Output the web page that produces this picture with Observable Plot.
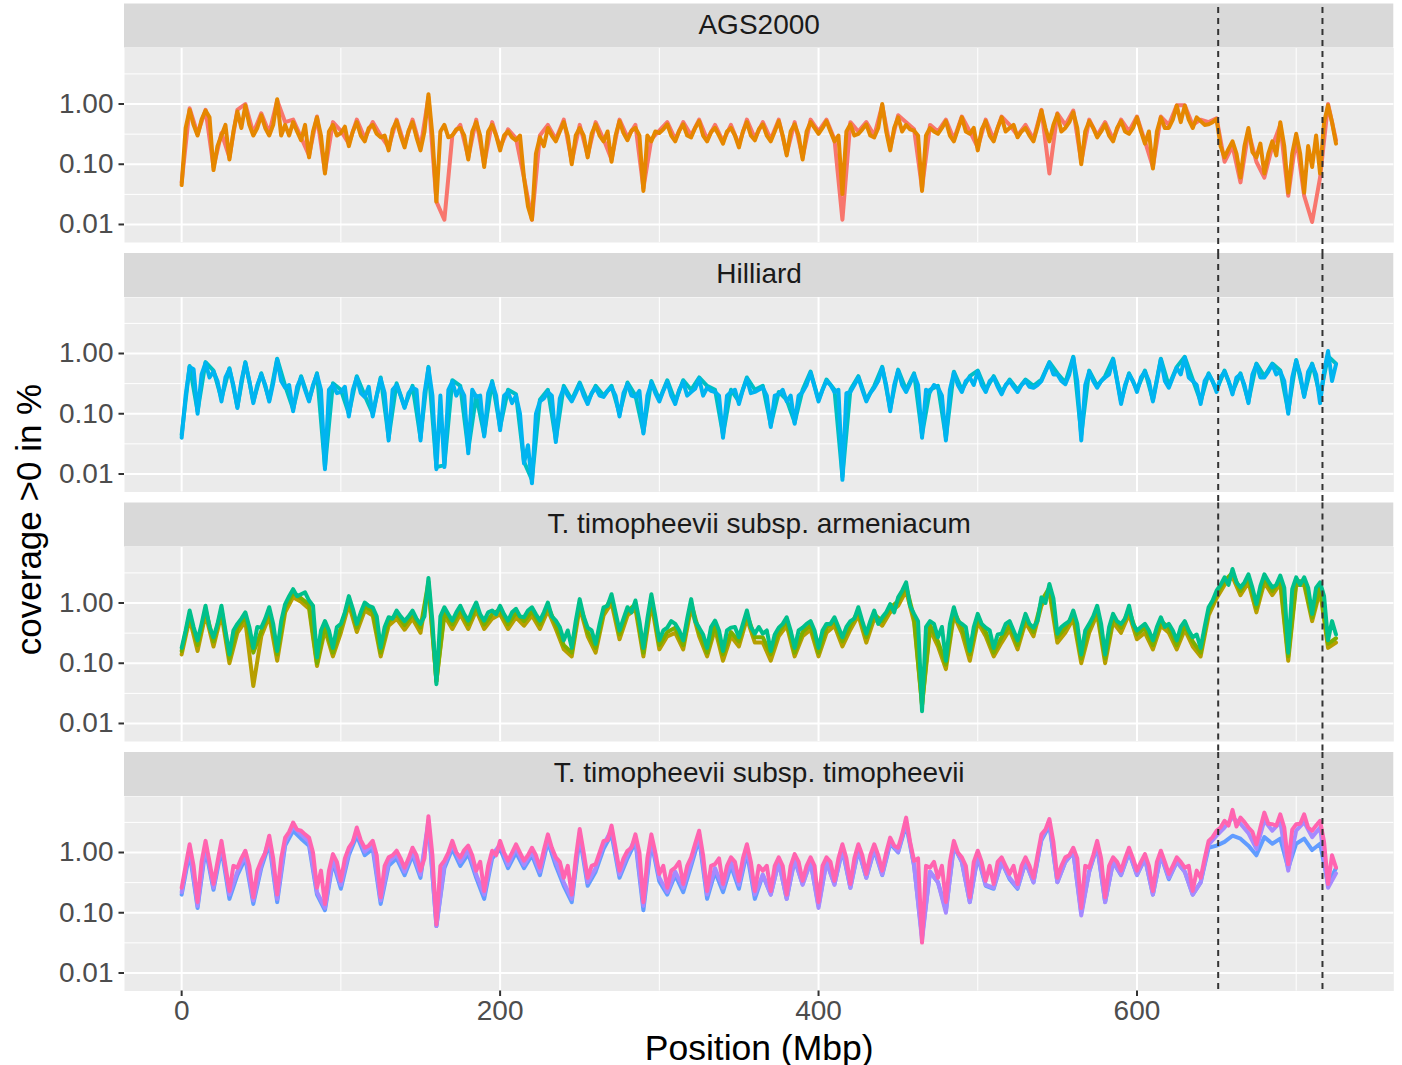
<!DOCTYPE html>
<html>
<head>
<meta charset="utf-8">
<script src="https://cdn.jsdelivr.net/npm/d3@7"></script>
<script src="https://cdn.jsdelivr.net/npm/@observablehq/plot@0.6"></script>
<style>
  html, body { margin: 0; padding: 0; background: #ffffff; }
  #chart svg { display: block; }
</style>
</head>
<body>
<div id="chart"></div>
<script>
// ---------- data ----------
const panels = ["AGS2000", "Hilliard", "T. timopheevii subsp. armeniacum", "T. timopheevii subsp. timopheevii"];
// window start positions (Mbp): 5 Mbp bins for the background samples, 2.5 Mbp bins for the front samples
const positionsCoarse = d3.range(0, 726, 5);
const positionsFine = d3.range(0, 726, 2.5);

const ags2000_a = [
  0.05, 0.85, 0.32, 0.8, 0.09, 0.33, 0.13, 0.8, 1.0, 0.33,
  0.7, 0.33, 1.15, 0.5, 0.55, 0.28, 0.14, 0.62, 0.075, 0.5,
  0.36, 0.22, 0.55, 0.27, 0.5, 0.3, 0.19, 0.55, 0.21, 0.55,
  0.19, 1.3, 0.024, 0.012, 0.3, 0.45, 0.13, 0.55, 0.1, 0.5,
  0.19, 0.38, 0.27, 0.06, 0.012, 0.3, 0.45, 0.26, 0.55, 0.11,
  0.45, 0.14, 0.5, 0.26, 0.12, 0.55, 0.28, 0.45, 0.04, 0.26,
  0.36, 0.5, 0.26, 0.5, 0.3, 0.55, 0.26, 0.45, 0.24, 0.45,
  0.21, 0.55, 0.27, 0.5, 0.26, 0.55, 0.15, 0.5, 0.13, 0.55,
  0.35, 0.55, 0.26, 0.012, 0.5, 0.35, 0.5, 0.3, 0.95, 0.19,
  0.65, 0.5, 0.38, 0.04, 0.45, 0.35, 0.55, 0.26, 0.62, 0.35,
  0.19, 0.55, 0.26, 0.62, 0.45, 0.3, 0.45, 0.26, 0.8, 0.07,
  0.7, 0.45, 0.78, 0.11, 0.55, 0.3, 0.5, 0.26, 0.55, 0.35,
  0.62, 0.24, 0.09, 0.62, 0.45, 0.95, 0.95, 0.45, 0.55, 0.5,
  0.58, 0.11, 0.2, 0.05, 0.35, 0.11, 0.06, 0.2, 0.45, 0.03,
  0.28, 0.03, 0.011, 0.06, 1.0, 0.25
];
const ags2000_b = [
  0.045, 0.4, 0.8, 0.45, 0.3, 0.55, 0.78, 0.6, 0.08, 0.2, 0.3, 0.45, 0.12, 0.35, 0.75, 0.4, 0.95, 0.45, 0.3, 0.4,
  0.65, 0.4, 0.3, 0.45, 1.2, 0.3, 0.45, 0.3, 0.5, 0.35, 0.25, 0.45, 0.13, 0.35, 0.6, 0.3, 0.07, 0.35, 0.45, 0.3,
  0.33, 0.42, 0.2, 0.35, 0.5, 0.3, 0.24, 0.4, 0.45, 0.32, 0.28, 0.3, 0.17, 0.38, 0.52, 0.3, 0.19, 0.36, 0.5, 0.28,
  0.17, 0.35, 1.45, 0.3, 0.024, 0.35, 0.45, 0.28, 0.3, 0.38, 0.4, 0.3, 0.12, 0.35, 0.5, 0.3, 0.09, 0.35, 0.45, 0.3,
  0.17, 0.3, 0.35, 0.28, 0.25, 0.3, 0.06, 0.02, 0.012, 0.15, 0.28, 0.2, 0.4, 0.3, 0.24, 0.35, 0.5, 0.3, 0.1, 0.3,
  0.4, 0.3, 0.13, 0.32, 0.46, 0.3, 0.24, 0.35, 0.11, 0.3, 0.52, 0.33, 0.25, 0.36, 0.4, 0.3, 0.036, 0.3, 0.24, 0.35,
  0.33, 0.38, 0.46, 0.3, 0.24, 0.36, 0.46, 0.3, 0.28, 0.4, 0.52, 0.3, 0.24, 0.34, 0.4, 0.3, 0.22, 0.35, 0.4, 0.3,
  0.19, 0.35, 0.5, 0.3, 0.25, 0.38, 0.46, 0.3, 0.24, 0.35, 0.52, 0.3, 0.14, 0.35, 0.46, 0.3, 0.12, 0.35, 0.5, 0.4,
  0.32, 0.4, 0.52, 0.35, 0.24, 0.3, 0.032, 0.35, 0.46, 0.3, 0.32, 0.38, 0.46, 0.3, 0.28, 0.4, 1.0, 0.35, 0.17, 0.4,
  0.6, 0.35, 0.45, 0.38, 0.36, 0.3, 0.036, 0.3, 0.4, 0.35, 0.32, 0.4, 0.52, 0.3, 0.24, 0.38, 0.6, 0.35, 0.32, 0.4,
  0.17, 0.38, 0.52, 0.3, 0.24, 0.4, 0.6, 0.35, 0.4, 0.45, 0.28, 0.35, 0.4, 0.3, 0.24, 0.42, 0.78, 0.4, 0.24, 0.45,
  0.68, 0.35, 0.4, 0.5, 0.73, 0.4, 0.1, 0.35, 0.52, 0.4, 0.28, 0.35, 0.46, 0.3, 0.24, 0.4, 0.52, 0.35, 0.32, 0.4,
  0.6, 0.35, 0.22, 0.35, 0.085, 0.35, 0.6, 0.4, 0.4, 0.55, 0.94, 0.5, 0.94, 0.55, 0.4, 0.6, 0.52, 0.45, 0.46, 0.5,
  0.56, 0.2, 0.13, 0.18, 0.24, 0.15, 0.06, 0.2, 0.4, 0.16, 0.13, 0.22, 0.07, 0.15, 0.24, 0.14, 0.5, 0.2, 0.034, 0.15,
  0.32, 0.15, 0.034, 0.2, 0.09, 0.3, 0.07, 0.5, 0.95, 0.5, 0.22
];
const hilliard_a = [
  0.045, 0.62, 0.11, 0.72, 0.52, 0.18, 0.57, 0.13, 0.72, 0.16,
  0.47, 0.17, 0.82, 0.29, 0.12, 0.42, 0.17, 0.47, 0.013, 0.32,
  0.25, 0.1, 0.42, 0.2, 0.1, 0.4, 0.04, 0.32, 0.13, 0.29,
  0.04, 0.6, 0.013, 0.014, 0.36, 0.29, 0.025, 0.2, 0.045, 0.35,
  0.06, 0.25, 0.21, 0.016, 0.008, 0.17, 0.25, 0.037, 0.29, 0.17,
  0.33, 0.16, 0.29, 0.2, 0.29, 0.1, 0.33, 0.2, 0.05, 0.35,
  0.17, 0.36, 0.16, 0.36, 0.25, 0.4, 0.29, 0.25, 0.045, 0.25,
  0.16, 0.4, 0.25, 0.29, 0.065, 0.23, 0.17, 0.072, 0.25, 0.5,
  0.17, 0.37, 0.25, 0.009, 0.25, 0.42, 0.17, 0.29, 0.6, 0.12,
  0.54, 0.25, 0.47, 0.045, 0.25, 0.29, 0.04, 0.5, 0.25, 0.42,
  0.52, 0.25, 0.42, 0.23, 0.37, 0.25, 0.37, 0.29, 0.37, 0.72,
  0.47, 0.33, 0.88, 0.045, 0.52, 0.29, 0.42, 0.82, 0.16, 0.47,
  0.25, 0.52, 0.17, 0.82, 0.29, 0.6, 0.88, 0.37, 0.16, 0.47,
  0.25, 0.52, 0.23, 0.47, 0.16, 0.68, 0.42, 0.68, 0.52, 0.11,
  0.78, 0.2, 0.68, 0.2, 0.9, 0.68
];
const hilliard_b = [
  0.04, 0.2, 0.6, 0.55, 0.1, 0.45, 0.7, 0.4, 0.5, 0.35, 0.16, 0.4, 0.55, 0.3, 0.125, 0.35, 0.7, 0.35, 0.15, 0.3,
  0.45, 0.3, 0.16, 0.32, 0.8, 0.35, 0.27, 0.3, 0.11, 0.28, 0.4, 0.25, 0.16, 0.3, 0.45, 0.25, 0.012, 0.25, 0.3, 0.22,
  0.23, 0.28, 0.09, 0.25, 0.4, 0.22, 0.19, 0.28, 0.09, 0.2, 0.38, 0.22, 0.036, 0.25, 0.3, 0.2, 0.125, 0.22, 0.27, 0.25,
  0.036, 0.22, 0.58, 0.2, 0.012, 0.2, 0.013, 0.25, 0.34, 0.2, 0.27, 0.2, 0.022, 0.25, 0.19, 0.2, 0.042, 0.22, 0.33, 0.2,
  0.053, 0.2, 0.23, 0.15, 0.2, 0.1, 0.015, 0.03, 0.007, 0.1, 0.16, 0.18, 0.23, 0.2, 0.034, 0.18, 0.27, 0.2, 0.16, 0.22,
  0.31, 0.2, 0.145, 0.22, 0.27, 0.2, 0.19, 0.24, 0.27, 0.2, 0.09, 0.22, 0.31, 0.2, 0.19, 0.24, 0.047, 0.2, 0.33, 0.22,
  0.16, 0.24, 0.34, 0.2, 0.145, 0.25, 0.34, 0.2, 0.23, 0.26, 0.38, 0.2, 0.27, 0.24, 0.23, 0.2, 0.04, 0.2, 0.23, 0.25,
  0.145, 0.25, 0.38, 0.22, 0.23, 0.25, 0.27, 0.2, 0.06, 0.2, 0.21, 0.25, 0.16, 0.2, 0.068, 0.2, 0.23, 0.3, 0.48, 0.28,
  0.16, 0.25, 0.35, 0.3, 0.23, 0.25, 0.008, 0.22, 0.23, 0.3, 0.4, 0.25, 0.16, 0.22, 0.27, 0.35, 0.58, 0.3, 0.11, 0.3,
  0.52, 0.3, 0.23, 0.32, 0.45, 0.3, 0.04, 0.25, 0.23, 0.3, 0.27, 0.2, 0.036, 0.25, 0.48, 0.3, 0.23, 0.35, 0.4, 0.3,
  0.5, 0.3, 0.23, 0.35, 0.4, 0.28, 0.21, 0.3, 0.35, 0.28, 0.23, 0.3, 0.35, 0.28, 0.27, 0.3, 0.35, 0.5, 0.7, 0.45,
  0.45, 0.35, 0.31, 0.45, 0.86, 0.35, 0.036, 0.3, 0.5, 0.35, 0.27, 0.35, 0.4, 0.45, 0.8, 0.35, 0.145, 0.3, 0.45, 0.35,
  0.23, 0.4, 0.5, 0.35, 0.16, 0.35, 0.8, 0.35, 0.27, 0.4, 0.58, 0.45, 0.86, 0.4, 0.35, 0.3, 0.145, 0.35, 0.45, 0.35,
  0.23, 0.4, 0.5, 0.35, 0.21, 0.4, 0.45, 0.3, 0.15, 0.45, 0.66, 0.4, 0.4, 0.5, 0.66, 0.45, 0.5, 0.35, 0.1, 0.4,
  0.76, 0.45, 0.19, 0.5, 0.66, 0.45, 0.15, 0.5, 1.1, 0.35, 0.66
];
const armeniacum_a = [
  0.14, 0.55, 0.16, 0.65, 0.19, 0.65, 0.1, 0.32, 0.5, 0.042,
  0.28, 0.6, 0.11, 0.7, 1.25, 1.05, 0.8, 0.09, 0.36, 0.13,
  0.32, 0.95, 0.33, 0.75, 0.62, 0.13, 0.42, 0.55, 0.36, 0.55,
  0.32, 1.9, 0.05, 0.62, 0.37, 0.65, 0.37, 0.75, 0.37, 0.55,
  0.65, 0.37, 0.58, 0.42, 0.62, 0.37, 0.75, 0.37, 0.17, 0.13,
  0.85, 0.28, 0.15, 0.62, 1.0, 0.25, 0.62, 0.8, 0.13, 1.0,
  0.17, 0.28, 0.32, 0.17, 0.85, 0.28, 0.13, 0.37, 0.11, 0.28,
  0.19, 0.55, 0.22, 0.22, 0.11, 0.28, 0.42, 0.13, 0.28, 0.36,
  0.13, 0.32, 0.42, 0.19, 0.36, 0.62, 0.22, 0.55, 0.42, 0.7,
  0.9, 1.6, 0.48, 0.02, 0.36, 0.19, 0.08, 0.62, 0.32, 0.11,
  0.48, 0.28, 0.13, 0.22, 0.36, 0.17, 0.48, 0.28, 0.9, 1.5,
  0.22, 0.32, 0.55, 0.1, 0.32, 0.65, 0.1, 0.48, 0.32, 0.65,
  0.25, 0.32, 0.17, 0.42, 0.32, 0.17, 0.36, 0.19, 0.13, 0.62,
  1.2, 2.0, 2.7, 1.35, 2.2, 0.7, 2.2, 1.35, 2.1, 0.11,
  2.0, 2.0, 0.5, 1.6, 0.18, 0.22
];
const armeniacum_b = [
  0.16, 0.65, 0.2, 0.78, 0.23, 0.78, 0.12, 0.39, 0.6, 0.15,
  0.34, 0.73, 0.14, 0.83, 1.48, 1.2, 0.95, 0.1, 0.43, 0.15,
  0.39, 1.12, 0.39, 0.88, 0.73, 0.15, 0.5, 0.65, 0.43, 0.65,
  0.39, 2.25, 0.05, 0.73, 0.44, 0.78, 0.44, 0.88, 0.44, 0.65,
  0.78, 0.44, 0.69, 0.5, 0.73, 0.44, 0.88, 0.44, 0.2, 0.15,
  1.0, 0.33, 0.18, 0.73, 1.2, 0.3, 0.73, 0.95, 0.15, 1.2,
  0.2, 0.33, 0.39, 0.2, 1.0, 0.33, 0.15, 0.44, 0.14, 0.33,
  0.23, 0.65, 0.27, 0.27, 0.14, 0.33, 0.5, 0.15, 0.33, 0.43,
  0.15, 0.39, 0.5, 0.23, 0.43, 0.73, 0.27, 0.65, 0.5, 0.83,
  1.08, 1.9, 0.57, 0.02, 0.43, 0.23, 0.095, 0.73, 0.39, 0.14,
  0.57, 0.33, 0.15, 0.27, 0.43, 0.2, 0.57, 0.33, 1.08, 1.8,
  0.27, 0.39, 0.65, 0.12, 0.39, 0.78, 0.12, 0.57, 0.39, 0.78,
  0.3, 0.39, 0.2, 0.5, 0.39, 0.2, 0.43, 0.23, 0.15, 0.73,
  1.4, 2.3, 3.2, 1.58, 2.6, 0.83, 2.6, 1.58, 2.5, 0.13,
  2.3, 2.3, 0.57, 1.9, 0.21, 0.26
];
const armeniacum_c = [
  0.18, 0.35, 0.75, 0.4, 0.24, 0.45, 0.9, 0.4, 0.27, 0.45, 0.9, 0.35, 0.14, 0.35, 0.45, 0.55, 0.7, 0.4, 0.18, 0.4,
  0.39, 0.55, 0.85, 0.45, 0.16, 0.5, 0.96, 1.3, 1.7, 1.3, 1.4, 1.5, 1.1, 0.9, 0.125, 0.35, 0.5, 0.35, 0.18, 0.4,
  0.45, 0.7, 1.3, 0.8, 0.45, 0.7, 1.02, 0.9, 0.85, 0.6, 0.18, 0.4, 0.58, 0.55, 0.75, 0.6, 0.5, 0.6, 0.75, 0.55,
  0.45, 0.6, 2.6, 0.5, 0.045, 0.6, 0.85, 0.65, 0.51, 0.7, 0.9, 0.65, 0.51, 0.75, 1.02, 0.65, 0.51, 0.7, 0.75, 0.65,
  0.9, 0.65, 0.51, 0.7, 0.8, 0.6, 0.58, 0.75, 0.85, 0.65, 0.51, 0.7, 1.02, 0.6, 0.51, 0.4, 0.24, 0.35, 0.18, 0.5,
  1.16, 0.6, 0.39, 0.35, 0.21, 0.45, 0.85, 0.9, 1.4, 0.7, 0.35, 0.55, 0.85, 0.7, 1.1, 0.5, 0.18, 0.55, 1.4, 0.6,
  0.24, 0.35, 0.39, 0.5, 0.45, 0.35, 0.24, 0.55, 1.16, 0.5, 0.39, 0.3, 0.18, 0.4, 0.51, 0.35, 0.16, 0.35, 0.39, 0.4,
  0.27, 0.45, 0.75, 0.4, 0.31, 0.4, 0.31, 0.35, 0.16, 0.3, 0.39, 0.45, 0.58, 0.35, 0.18, 0.35, 0.39, 0.45, 0.5, 0.35,
  0.18, 0.35, 0.45, 0.45, 0.58, 0.4, 0.27, 0.4, 0.5, 0.55, 0.85, 0.5, 0.31, 0.5, 0.75, 0.45, 0.58, 0.7, 0.96, 0.7,
  1.24, 1.6, 2.2, 0.9, 0.66, 0.5, 0.016, 0.4, 0.5, 0.45, 0.27, 0.4, 0.11, 0.45, 0.85, 0.5, 0.45, 0.4, 0.16, 0.4,
  0.66, 0.45, 0.39, 0.35, 0.18, 0.3, 0.31, 0.45, 0.5, 0.35, 0.24, 0.4, 0.66, 0.45, 0.39, 0.5, 1.24, 1.0, 2.07, 1.2,
  0.31, 0.4, 0.45, 0.5, 0.75, 0.45, 0.14, 0.35, 0.45, 0.6, 0.9, 0.45, 0.14, 0.4, 0.66, 0.5, 0.45, 0.55, 0.9, 0.45,
  0.35, 0.4, 0.45, 0.35, 0.24, 0.4, 0.58, 0.4, 0.45, 0.35, 0.24, 0.4, 0.5, 0.35, 0.27, 0.3, 0.18, 0.4, 0.85, 1.1,
  1.6, 2.0, 2.67, 2.0, 3.67, 2.2, 1.82, 2.2, 3.0, 1.8, 0.96, 1.9, 3.0, 2.3, 1.82, 2.0, 2.85, 1.8, 0.15, 1.7,
  2.67, 2.0, 2.67, 1.8, 0.66, 1.8, 2.2, 1.3, 0.24, 0.5, 0.3
];
const timopheevii_a = [
  0.2, 1.0, 0.12, 1.15, 0.24, 1.15, 0.17, 0.42, 0.8, 0.14,
  0.55, 1.4, 0.15, 1.3, 2.3, 1.7, 1.3, 0.2, 0.11, 0.7,
  0.25, 0.9, 1.9, 0.9, 1.15, 0.14, 0.6, 0.8, 0.42, 0.9,
  0.38, 3.0, 0.06, 0.55, 1.15, 0.6, 0.95, 0.38, 0.17, 0.8,
  1.15, 0.55, 1.0, 0.55, 0.9, 0.42, 1.5, 0.6, 0.28, 0.15,
  1.8, 0.28, 0.48, 1.15, 2.0, 0.38, 0.8, 1.5, 0.11, 1.5,
  0.33, 0.2, 0.42, 0.22, 0.6, 1.7, 0.17, 0.48, 0.22, 0.6,
  0.25, 1.0, 0.17, 0.42, 0.2, 0.7, 0.17, 0.75, 0.3, 0.7,
  0.13, 0.7, 0.3, 1.1, 0.26, 1.1, 0.38, 1.1, 0.42, 1.4,
  1.0, 2.9, 0.6, 0.04, 0.48, 0.32, 0.11, 1.25, 0.7, 0.15,
  0.85, 0.28, 0.25, 0.7, 0.36, 0.25, 0.7, 0.32, 1.6, 2.8,
  0.32, 0.7, 1.0, 0.1, 0.48, 1.25, 0.15, 0.7, 0.42, 1.0,
  0.42, 0.8, 0.2, 0.9, 0.36, 0.7, 0.48, 0.2, 0.32, 1.2,
  1.3, 1.5, 1.9, 1.7, 1.3, 0.9, 1.8, 1.4, 1.7, 0.55,
  1.4, 1.7, 1.1, 1.4, 0.3, 0.55
];
const timopheevii_b = [
  0.22, 1.2, 0.13, 1.35, 0.26, 1.35, 0.2, 0.48, 0.92, 0.16,
  0.62, 1.65, 0.17, 1.5, 2.7, 2.0, 1.5, 0.22, 0.12, 0.8,
  0.29, 1.03, 2.2, 1.03, 1.35, 0.16, 0.7, 0.92, 0.48, 1.03,
  0.43, 3.4, 0.06, 0.62, 1.35, 0.7, 1.1, 0.43, 0.2, 0.92,
  1.35, 0.62, 1.18, 0.62, 1.03, 0.48, 1.7, 0.7, 0.32, 0.17,
  2.1, 0.32, 0.55, 1.35, 2.4, 0.43, 0.92, 1.7, 0.13, 1.7,
  0.38, 0.22, 0.48, 0.26, 0.7, 2.0, 0.2, 0.55, 0.26, 0.7,
  0.29, 1.18, 0.2, 0.43, 0.2, 0.7, 0.17, 0.8, 0.29, 0.7,
  0.12, 0.7, 0.29, 1.18, 0.26, 1.18, 0.38, 1.18, 0.43, 1.5,
  1.03, 3.2, 0.62, 0.035, 0.48, 0.32, 0.1, 1.35, 0.7, 0.15,
  0.92, 0.29, 0.26, 0.7, 0.38, 0.26, 0.7, 0.32, 1.7, 3.1,
  0.32, 0.7, 1.03, 0.09, 0.48, 1.35, 0.15, 0.7, 0.43, 1.03,
  0.43, 0.8, 0.2, 0.92, 0.38, 0.7, 0.48, 0.2, 0.32, 1.35,
  1.9, 2.6, 3.8, 3.0, 2.1, 1.15, 3.4, 2.3, 3.2, 0.5,
  2.3, 3.2, 1.8, 2.6, 0.26, 0.45
];
const timopheevii_c = [
  0.26, 0.6, 1.37, 0.6, 0.15, 0.7, 1.56, 0.7, 0.3, 0.7, 1.56, 0.6, 0.23, 0.6, 0.56, 0.8, 1.07, 0.6, 0.18, 0.5,
  0.73, 1.0, 1.9, 0.8, 0.2, 0.8, 1.77, 2.2, 3.15, 2.4, 2.3, 2.0, 1.77, 1.0, 0.26, 0.5, 0.14, 0.5, 0.94, 0.7,
  0.34, 0.8, 1.2, 1.5, 2.6, 1.6, 1.2, 1.3, 1.56, 0.9, 0.18, 0.6, 0.83, 0.9, 1.07, 0.8, 0.56, 0.8, 1.2, 0.9,
  0.5, 0.8, 4.0, 0.9, 0.064, 0.6, 0.73, 1.0, 1.56, 1.0, 0.83, 1.1, 1.3, 0.9, 0.5, 0.7, 0.23, 0.6, 1.07, 0.9,
  1.56, 1.0, 0.73, 1.0, 1.37, 1.0, 0.73, 0.9, 1.2, 0.9, 0.56, 1.1, 2.0, 1.2, 0.83, 0.7, 0.38, 0.6, 0.2, 0.8,
  2.45, 1.0, 0.38, 0.6, 0.64, 1.0, 1.56, 1.6, 2.8, 1.2, 0.5, 0.8, 1.07, 1.2, 2.0, 1.0, 0.15, 0.8, 2.0, 1.0,
  0.44, 0.6, 0.26, 0.5, 0.56, 0.7, 0.3, 0.6, 0.83, 1.4, 2.3, 0.9, 0.23, 0.6, 0.64, 0.8, 0.3, 0.6, 0.83, 0.7,
  0.34, 0.8, 1.37, 0.7, 0.23, 0.6, 0.5, 0.6, 0.23, 0.6, 0.83, 0.6, 0.2, 0.6, 0.94, 0.7, 0.34, 0.6, 0.83, 0.6,
  0.15, 0.6, 0.83, 0.7, 0.34, 0.8, 1.37, 0.8, 0.3, 0.8, 1.37, 0.9, 0.44, 0.9, 1.37, 0.9, 0.5, 1.0, 1.77, 1.3,
  1.2, 2.0, 3.8, 1.5, 0.73, 0.8, 0.032, 0.6, 0.56, 0.7, 0.38, 0.6, 0.15, 0.7, 1.56, 1.0, 0.83, 0.6, 0.18, 0.7,
  1.07, 0.7, 0.34, 0.6, 0.3, 0.7, 0.83, 0.6, 0.44, 0.6, 0.3, 0.6, 0.83, 0.6, 0.38, 0.9, 2.0, 2.4, 3.6, 1.5,
  0.38, 0.6, 0.83, 0.9, 1.2, 0.8, 0.12, 0.6, 0.56, 0.9, 1.56, 0.8, 0.18, 0.6, 0.83, 0.7, 0.5, 0.8, 1.2, 0.8,
  0.5, 0.7, 0.94, 0.6, 0.23, 0.7, 1.07, 0.7, 0.44, 0.6, 0.83, 0.7, 0.56, 0.6, 0.23, 0.5, 0.38, 0.8, 1.56, 1.8,
  2.3, 2.6, 3.36, 2.8, 5.1, 2.7, 3.8, 3.2, 2.6, 2.2, 1.37, 2.6, 4.6, 3.0, 2.95, 2.8, 4.3, 2.6, 0.64, 2.4,
  2.95, 3.0, 4.3, 2.6, 2.3, 2.8, 3.36, 1.5, 0.3, 0.9, 0.56
];

const seriesNames  = ["AGS2000_a", "AGS2000_b", "Hilliard_a", "Hilliard_b",
                      "armeniacum_a", "armeniacum_b", "armeniacum_c",
                      "timopheevii_a", "timopheevii_b", "timopheevii_c"];
const seriesPanel  = [0, 0, 1, 1, 2, 2, 2, 3, 3, 3];
const seriesValues = [ags2000_a, ags2000_b, hilliard_a, hilliard_b,
                      armeniacum_a, armeniacum_b, armeniacum_c,
                      timopheevii_a, timopheevii_b, timopheevii_c];
const palette = ["#F8766D", "#E58700", "#00BFC4", "#00B4F0",
                 "#B79F00", "#7CAE00", "#00C08B",
                 "#619CFF", "#A58AFF", "#FF64B0"];

const yTicks = [0.01, 0.1, 1];
const yMinor = [0.03162, 0.3162, 3.162];
const xTicks = [0, 200, 400, 600];
const xMinor = [100, 300, 500, 700];
const boundaries = [651, 716.5];

// ---------- tables for the library ----------
const rows = seriesNames.flatMap((name, s) => {
  const vals = seriesValues[s];
  const pos = vals.length === positionsFine.length ? positionsFine : positionsCoarse;
  return vals.map((v, i) => ({pos: pos[i], value: v, series: name, panel: panels[seriesPanel[s]]}));
});
const boundaryRows = panels.flatMap((p) => boundaries.map((b) => ({pos: b, panel: p})));
const firstPanel = panels[0];
const lastPanel = panels[panels.length - 1];

// ---------- layout ----------
const W = 1402, H = 1065;
const mTop = 47.5, mLeft = 124, mRight = 8.7;
const stripH = 44, gap = 11, panelH = 194.5;
const mBottom = H - (mTop + 4 * panelH + 3 * (stripH + gap));
const padIn = (stripH + gap) / (panelH + stripH + gap);

const dashStyle = {x: "pos", fy: "panel", stroke: "#333333", strokeWidth: 2, strokeDasharray: "6,5"};

const chart = Plot.plot({
  width: W,
  height: H,
  marginTop: mTop,
  marginRight: mRight,
  marginBottom: mBottom,
  marginLeft: mLeft,
  style: {fontFamily: "'Liberation Sans', Arial, Helvetica, sans-serif", background: "#FFFFFF", overflow: "visible"},
  x: {domain: [-35.9, 761.3]},
  y: {type: "log", domain: [0.00502, 8.51]},
  fy: {domain: panels, paddingInner: padIn, paddingOuter: 0, round: false, axis: null, label: null},
  color: {domain: seriesNames, range: palette},
  marks: [
    Plot.frame({fill: "#EBEBEB"}),
    Plot.gridY(yMinor, {stroke: "#FFFFFF", strokeOpacity: 1, strokeWidth: 1}),
    Plot.gridX(xMinor, {stroke: "#FFFFFF", strokeOpacity: 1, strokeWidth: 1}),
    Plot.gridY(yTicks, {stroke: "#FFFFFF", strokeOpacity: 1, strokeWidth: 2}),
    Plot.gridX(xTicks, {stroke: "#FFFFFF", strokeOpacity: 1, strokeWidth: 2}),
    Plot.rect(panels, {fy: (d) => d, fill: "#D9D9D9", insetTop: -stripH, insetBottom: panelH}),
    Plot.text(panels, {fy: (d) => d, text: (d) => d, frameAnchor: "top", lineAnchor: "middle", dy: -stripH / 2 - 1, fontSize: 28, fill: "#1A1A1A"}),
    Plot.line(rows, {x: "pos", y: "value", z: "series", stroke: "series", fy: "panel", strokeWidth: 4, strokeLinejoin: "round"}),
    Plot.axisY(yTicks, {tickFormat: (d) => d.toFixed(2), tickSize: 5.5, tickPadding: 5.5, fontSize: 28,
                        stroke: "#333333", fill: "#4D4D4D", strokeWidth: 2, label: null}),
    Plot.axisX(xTicks, {tickSize: 5.5, tickPadding: 4, fontSize: 28,
                        stroke: "#333333", fill: "#4D4D4D", strokeWidth: 2, label: null}),
    Plot.ruleX(boundaryRows.filter((d) => d.panel === firstPanel), {...dashStyle, insetTop: -stripH + 3.5, insetBottom: -gap}),
    Plot.ruleX(boundaryRows.filter((d) => d.panel !== firstPanel && d.panel !== lastPanel), {...dashStyle, insetTop: -stripH, insetBottom: -gap}),
    Plot.ruleX(boundaryRows.filter((d) => d.panel === lastPanel), {...dashStyle, insetTop: -stripH}),
    Plot.text(["coverage >0 in %"], {facet: "super", frameAnchor: "left", textAnchor: "middle", rotate: -90, dx: -94.5, fontSize: 35, fill: "#000000"}),
    Plot.text(["Position (Mbp)"], {facet: "super", frameAnchor: "bottom", lineAnchor: "bottom", dy: 68.5, fontSize: 35.5, fill: "#000000"})
  ]
});
document.getElementById("chart").appendChild(chart);
</script>
</body>
</html>
